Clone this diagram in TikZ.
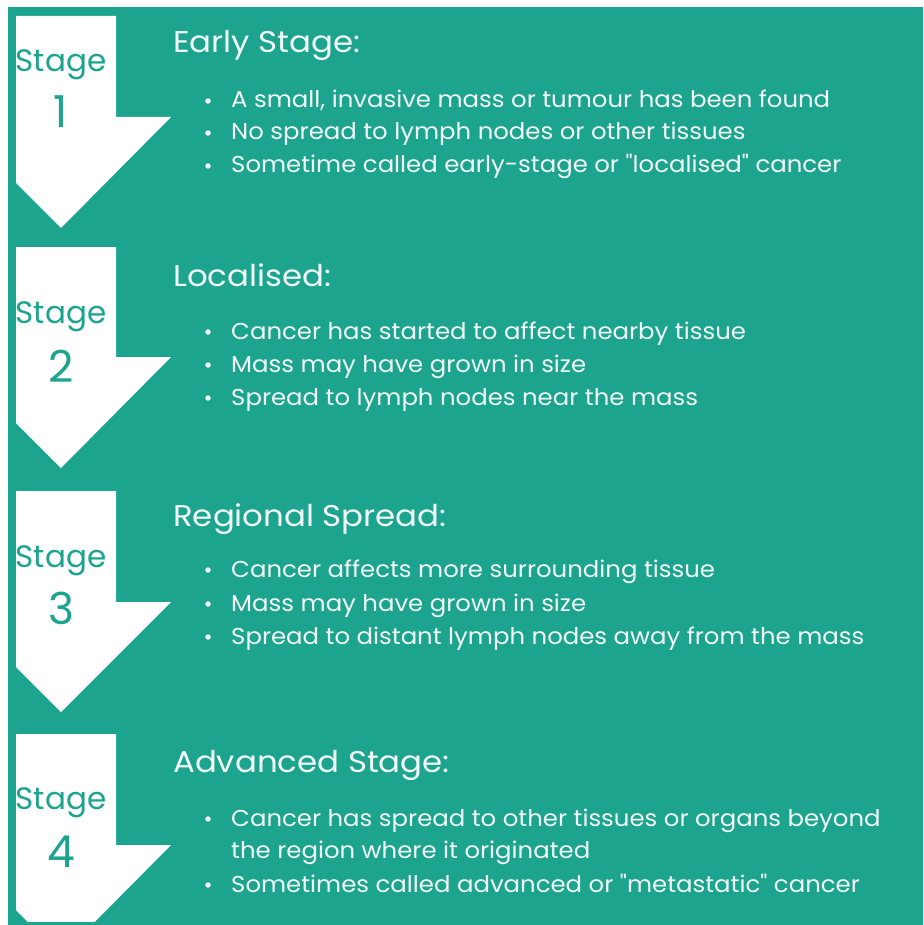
\documentclass[tikz,border=0pt]{standalone}
\usepackage{fontspec}
\setmainfont{Poppins}[Ligatures=TeXOff]
\definecolor{stageteal}{RGB}{28,164,142}
\definecolor{paletext}{RGB}{242,250,247}
\tikzset{
  panel/.style={fill=stageteal},
  stagearrow/.style={fill=white},
  heading/.style={anchor=base west, inner sep=0pt, text=paletext, xscale=1.08, transform shape, font=\fontsize{30}{34}\selectfont},
  point/.style={anchor=base west, inner sep=0pt, text=paletext, xscale=1.06, transform shape, font=\fontsize{23}{26}\selectfont},
  dot/.style={circle, fill=paletext, inner sep=0pt, minimum size=5.5pt},
  stageword/.style={anchor=base, inner sep=0pt, text=stageteal, font=\fontsize{31}{36}\selectfont},
  stagenum/.style={anchor=base, inner sep=0pt, text=stageteal, font=\fontsize{44}{50}\selectfont},
}
\begin{document}
\begin{tikzpicture}[x=1pt,y=-1pt]
\useasboundingbox (0,0) rectangle (923,925);
\fill[panel] (8,7) rectangle (923,925);

% downward arrows, left side of the head cut by the body edge
\fill[stagearrow] (16,16) -- (116,16) -- (116,117) -- (171,117) -- (61,228) -- (16,183) -- cycle;
\fill[stagearrow] (16,247) -- (116,247) -- (116,357) -- (171,357) -- (61,468) -- (16,423) -- cycle;
\fill[stagearrow] (16,491) -- (116,491) -- (116,602) -- (171,602) -- (61,712) -- (16,667) -- cycle;
\begin{scope}
  \clip (0,0) rectangle (923,921);
  \fill[stagearrow] (16,734) -- (116,734) -- (116,845) -- (171,845) -- (61,956) -- (16,910) -- cycle;
\end{scope}

% stage labels
\node[stageword] (s1) at (61,72) {Stage};
\node[stagenum]  (n1) at (61,128) {1};
\node[stageword] (s2) at (61,323) {Stage};
\node[stagenum]  (n2) at (61,382) {2};
\node[stageword] (s3) at (61,567) {Stage};
\node[stagenum]  (n3) at (61,624) {3};
\node[stageword] (s4) at (61,809) {Stage};
\node[stagenum]  (n4) at (61,867) {4};

% stage 1
\node[heading] (h1) at (173,53) {Early Stage:};
\node[dot] (d11) at (208,101) {};
\node[point] (p11) at (231,108) {A small, invasive mass or tumour has been found};
\node[dot] (d12) at (208,133) {};
\node[point] (p12) at (231,140) {No spread to lymph nodes or other tissues};
\node[dot] (d13) at (208,166) {};
\node[point] (p13) at (231,173) {Sometime called early-stage or "localised" cancer};

% stage 2
\node[heading] (h2) at (173,286) {Localised:};
\node[dot] (d21) at (208,332) {};
\node[point] (p21) at (231,339) {Cancer has started to affect nearby tissue};
\node[dot] (d22) at (208,365) {};
\node[point] (p22) at (231,372) {Mass may have grown in size};
\node[dot] (d23) at (208,398) {};
\node[point] (p23) at (231,405) {Spread to lymph nodes near the mass};

% stage 3
\node[heading] (h3) at (173,526) {Regional Spread:};
\node[dot] (d31) at (208,570) {};
\node[point] (p31) at (231,577) {Cancer affects more surrounding tissue};
\node[dot] (d32) at (208,604) {};
\node[point] (p32) at (231,611) {Mass may have grown in size};
\node[dot] (d33) at (208,637) {};
\node[point] (p33) at (231,644) {Spread to distant lymph nodes away from the mass};

% stage 4
\node[heading] (h4) at (173,772) {Advanced Stage:};
\node[dot] (d41) at (208,819) {};
\node[point] (p41) at (231,826) {Cancer has spread to other tissues or organs beyond};
\node[point] (p41b) at (231,858) {the region where it originated};
\node[dot] (d42) at (208,885) {};
\node[point] (p42) at (231,892) {Sometimes called advanced or "metastatic" cancer};
\end{tikzpicture}
\end{document}
